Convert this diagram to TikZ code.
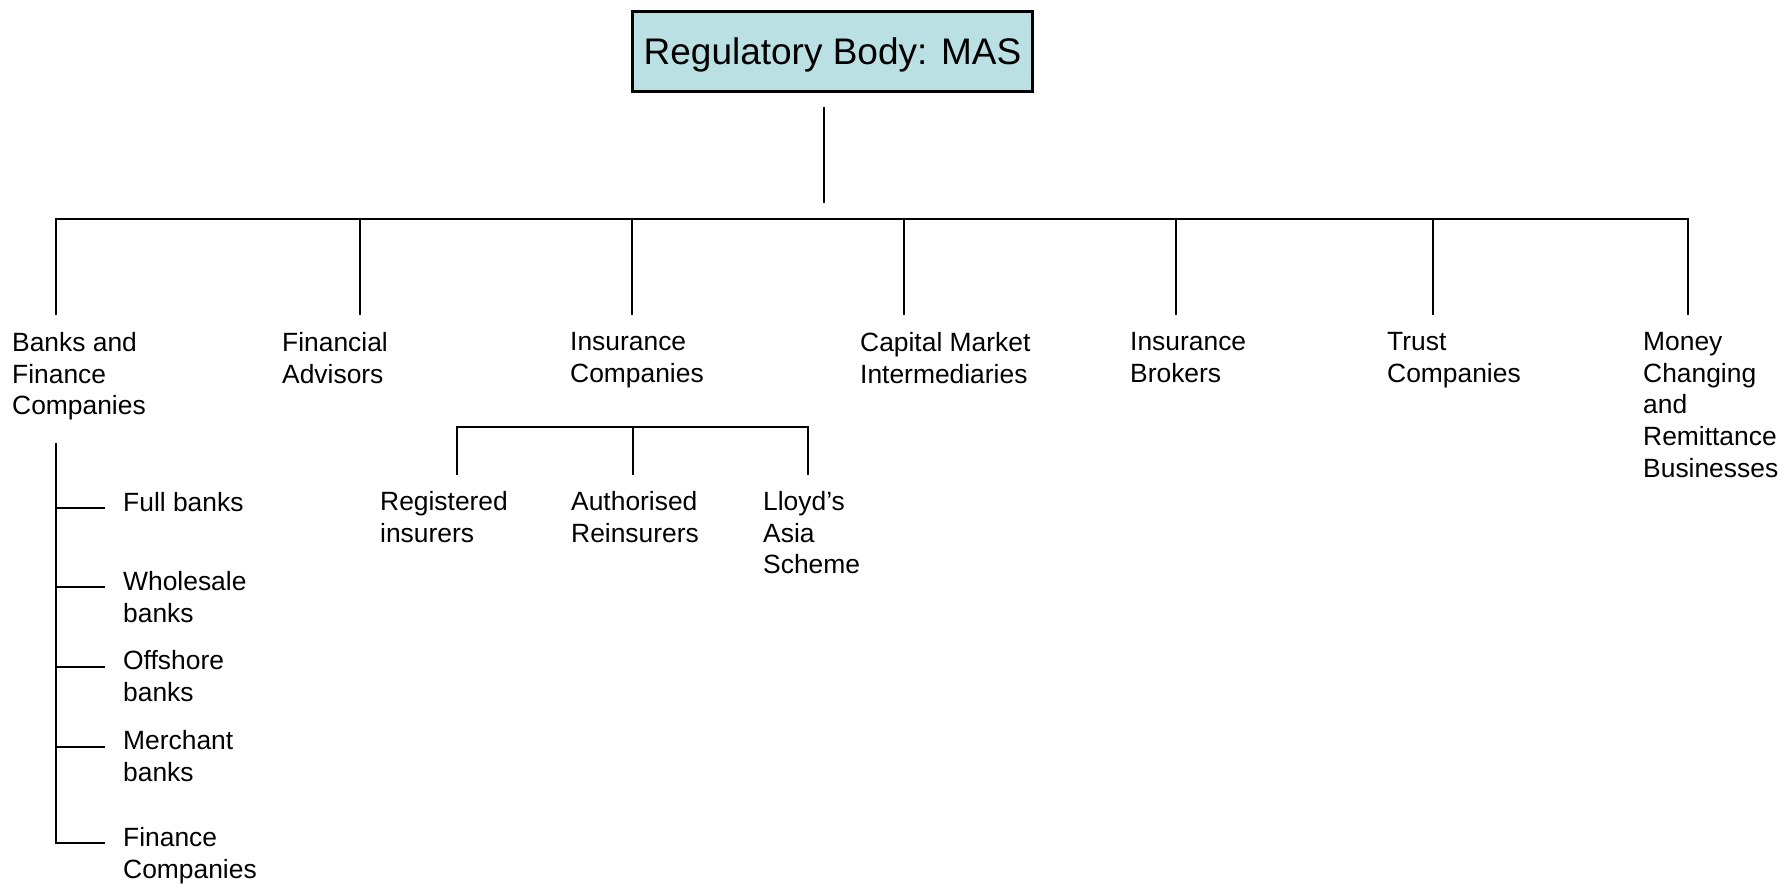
\documentclass[tikz,border=0pt]{standalone}
\usepackage{fontspec}
\setmainfont{Liberation Sans}
\definecolor{masfill}{RGB}{187,224,227}
\tikzset{
  headbox/.style={draw,line width=1.2pt,fill=masfill,minimum width=200pt,minimum height=40pt,
    inner sep=0pt,text depth=0pt,font=\fontsize{18.5}{22}\selectfont},
  unit/.style={anchor=north west,inner sep=0pt,align=left,font=\fontsize{13.2}{15.85}\selectfont},
}
\begin{document}
\begin{tikzpicture}[x=0.5pt,y=-0.5pt,line width=1.2pt]
  \useasboundingbox (0,0) rectangle (1783,884);

  % top
  \node[headbox,at={(832.5,51.5)}] (mas) {Regulatory Body: MAS};
  \coordinate (stemtop) at (824,107);
  \coordinate (stembot) at (824,203);
  \draw (stemtop) -- (stembot);

  % second row
  %edges
  \coordinate (jbanks) at (56,219);
  \coordinate (jadv) at (360,219);
  \coordinate (jins) at (632,219);
  \coordinate (jcap) at (904,219);
  \coordinate (jbrk) at (1176,219);
  \coordinate (jtrust) at (1433,219);
  \coordinate (jmoney) at (1688,219);
  \coordinate (dropend) at (0,315);
  \draw (jbanks|-dropend) -- (jbanks) -- (jmoney) -- (jmoney|-dropend);
  \draw (jadv) -- (jadv|-dropend);
  \draw (jins) -- (jins|-dropend);
  \draw (jcap) -- (jcap|-dropend);
  \draw (jbrk) -- (jbrk|-dropend);
  \draw (jtrust) -- (jtrust|-dropend);
  %labels
  \node[unit,at={(11,331)}] (banks) {Banks and\\Finance\\Companies};
  \node[unit,at={(281,331)}] (advisors) {Financial\\Advisors};
  \node[unit,at={(569,331)}] (insco) {Insurance\\Companies};
  \node[unit,at={(859,331)}] (capmkt) {Capital Market\\Intermediaries};
  \node[unit,at={(1129,331)}] (brokers) {Insurance\\Brokers};
  \node[unit,at={(1386,331)}] (trust) {Trust\\Companies};
  \node[unit,at={(1642,331)}] (money) {Money\\Changing\\and\\Remittance\\Businesses};

  % insurance
  %edges
  \coordinate (ireg) at (457,427);
  \coordinate (ireins) at (633,427);
  \coordinate (illoyd) at (808,427);
  \coordinate (subend) at (0,475);
  \draw (ireg|-subend) -- (ireg) -- (illoyd) -- (illoyd|-subend);
  \draw (ireins) -- (ireins|-subend);
  %labels
  \node[unit,at={(379,490)}] (registered) {Registered\\insurers};
  \node[unit,at={(570,490)}] (reinsurers) {Authorised\\Reinsurers};
  \node[unit,at={(762,490)}] (lloyds) {Lloyd’s\\Asia\\Scheme};

  % banks
  %edges
  \coordinate (spinetop) at (56,443);
  \coordinate (bfull) at (56,508);
  \coordinate (bwhole) at (56,587);
  \coordinate (boff) at (56,667);
  \coordinate (bmerch) at (56,747);
  \coordinate (bfin) at (56,843);
  \coordinate (tickend) at (105,0);
  \draw (spinetop) -- (bfin) -- (bfin-|tickend);
  \draw (bfull) -- (bfull-|tickend);
  \draw (bwhole) -- (bwhole-|tickend);
  \draw (boff) -- (boff-|tickend);
  \draw (bmerch) -- (bmerch-|tickend);
  %labels
  \node[unit,at={(122,491)}] (fullbanks) {Full banks};
  \node[unit,at={(122,570)}] (wholesale) {Wholesale\\banks};
  \node[unit,at={(122,649)}] (offshore) {Offshore\\banks};
  \node[unit,at={(122,729)}] (merchant) {Merchant\\banks};
  \node[unit,at={(122,826)}] (finance) {Finance\\Companies};
\end{tikzpicture}
\end{document}
